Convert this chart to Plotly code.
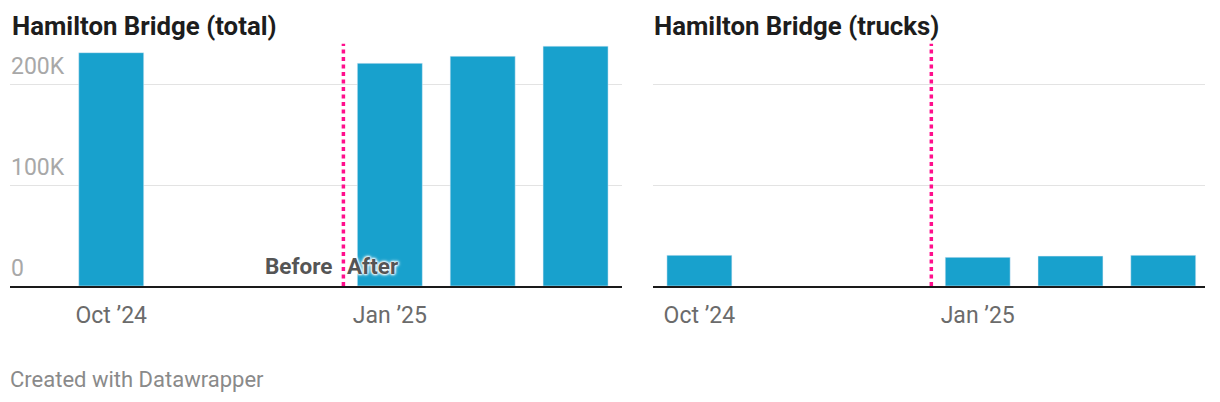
import plotly.graph_objects as go

months = ["Oct ’24", "Nov ’24", "Dec ’24", "Jan ’25", "Feb ’25", "Mar ’25"]
total = [231000, None, None, 220500, 227500, 237500]
trucks = [30400, None, None, 28400, 29600, 30400]
x_ticks = ["Oct ’24", "Jan ’25"]
y_ticks = [0, 100000, 200000]
y_tick_labels = ["0", "100K", "200K"]
titles = ["Hamilton Bridge (total)", "Hamilton Bridge (trucks)"]
split_at = 2.5  # between Dec and Jan
before_after = ["Before", "After"]

# page body has an 8px margin; size the figure to fit the 1220x402 window
OFF = 8
W, H = 1220 - OFF, 402 - OFF
BLUE = "#18a1cd"
PINK = "#ff0f8c"
FONT = "Roboto"


def px_x(p):
    return (p - OFF) / W


def px_y(p):
    return 1 - (p - OFF) / H


fig = go.Figure()
fig.add_trace(go.Bar(x=months, y=total, marker_color=BLUE, width=0.7,
                     xaxis="x", yaxis="y", hoverinfo="x+y"))
fig.add_trace(go.Bar(x=months, y=trucks, marker_color=BLUE, width=0.7,
                     xaxis="x2", yaxis="y2", hoverinfo="x+y"))

ydom = [px_y(286), px_y(43.6)]
yrange = [0, 240000]
xcommon = dict(type="category", categoryorder="array", categoryarray=months,
               tickvals=x_ticks, ticktext=x_ticks, showgrid=False, zeroline=False,
               showline=True, linecolor="#1a1a1a", linewidth=2, ticks="",
               ticklabelstandoff=7,
               tickfont=dict(family=FONT, size=23, color="#6b6b6b"),
               fixedrange=True)
ycommon = dict(range=yrange, domain=ydom, tickvals=y_ticks, showticklabels=False,
               showgrid=True, gridcolor="#e3e3e3", gridwidth=1, zeroline=False,
               showline=False, fixedrange=True)

fig.update_layout(
    width=W, height=H, margin=dict(l=0, r=0, t=0, b=0),
    paper_bgcolor="white", plot_bgcolor="white", showlegend=False, bargap=0.3,
    xaxis=dict(domain=[px_x(10), px_x(622)], range=[-1.09, 5.5], anchor="y", **xcommon),
    yaxis=dict(anchor="x", **ycommon),
    xaxis2=dict(domain=[px_x(653), px_x(1205)], range=[-0.5, 5.45], anchor="y2", **xcommon),
    yaxis2=dict(anchor="x2", **ycommon),
    font=dict(family=FONT),
)

# y tick labels above grid lines (left panel only)
for v, t in zip(y_ticks, y_tick_labels):
    fig.add_annotation(xref="paper", yref="y", x=px_x(9), y=v, text=t, showarrow=False,
                       xanchor="left", yanchor="middle", yshift=18,
                       font=dict(family=FONT, size=23, color="#a8a8a8"))

# split lines
for xa, ya in (("x", "y"), ("x2", "y2")):
    fig.add_shape(type="line", xref=xa, yref=ya, x0=split_at, x1=split_at,
                  y0=0, y1=yrange[1], line=dict(color=PINK, width=3.5, dash="4px,3.5px"))

# Before / After
halo = "0 0 2px white, 0 0 2px white, 0 0 3px white, 0 0 3px white, 0 0 4px white"
fig.add_annotation(xref="x", yref="y", x=split_at, y=0, text="<b>" + before_after[0] + "</b>",
                   showarrow=False, xanchor="right", yanchor="middle", xshift=-9, yshift=20,
                   font=dict(family=FONT, size=22.5, color="#555555", shadow=halo))
fig.add_annotation(xref="x", yref="y", x=split_at, y=0, text="<b>" + before_after[1] + "</b>",
                   showarrow=False, xanchor="left", yanchor="middle", xshift=2, yshift=20,
                   font=dict(family=FONT, size=22.5, color="#555555", shadow=halo))

# titles
for xp, t in zip((10, 652), titles):
    fig.add_annotation(xref="paper", yref="paper", x=px_x(xp), y=px_y(26), text="<b>" + t + "</b>",
                       showarrow=False, xanchor="left", yanchor="middle",
                       font=dict(family=FONT, size=25.8, color="#1d1d1d"))

# footer
fig.add_annotation(xref="paper", yref="paper", x=px_x(8), y=px_y(379), text="Created with Datawrapper",
                   showarrow=False, xanchor="left", yanchor="middle",
                   font=dict(family=FONT, size=22, color="#8a8a8a"))

fig.write_html("out.html")
